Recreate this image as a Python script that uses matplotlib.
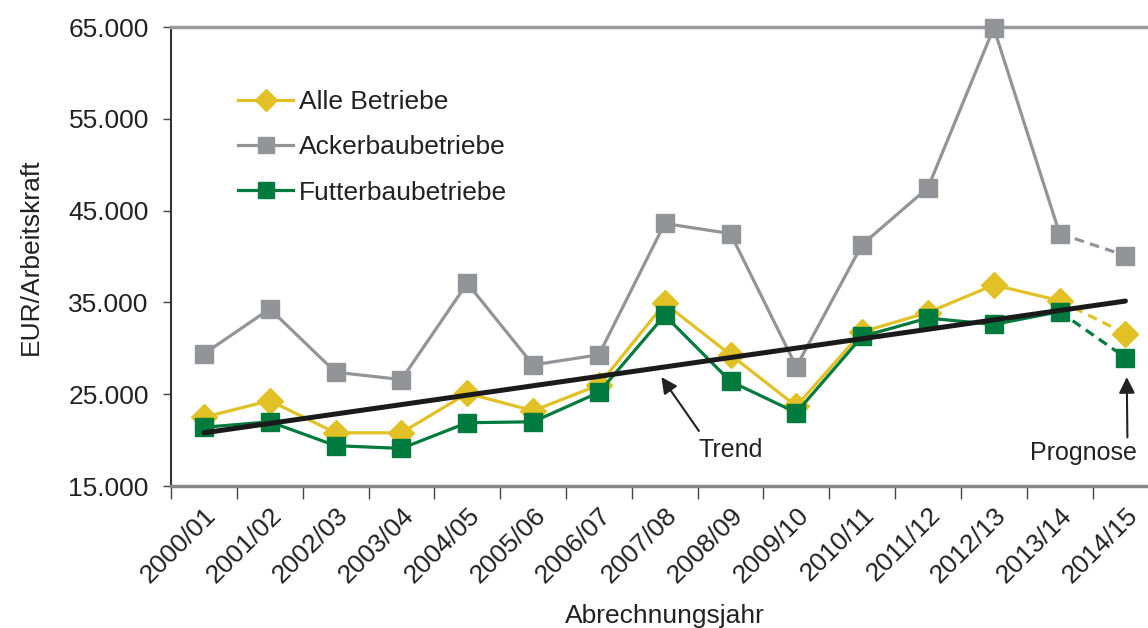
import matplotlib
matplotlib.use("Agg")
import matplotlib.pyplot as plt
from matplotlib.ticker import FuncFormatter, FixedLocator
import numpy as np

plt.rcParams['font.family'] = ['Liberation Sans', 'DejaVu Sans']

jahre = ["2000/01", "2001/02", "2002/03", "2003/04", "2004/05", "2005/06",
         "2006/07", "2007/08", "2008/09", "2009/10", "2010/11", "2011/12",
         "2012/13", "2013/14", "2014/15"]
alle = [22500, 24300, 20800, 20800, 25100, 23200, 26000, 34900, 29300,
        23700, 31800, 33900, 36900, 35200, 31600]
acker = [29400, 34300, 27400, 26600, 37100, 28200, 29300, 43600, 42500,
         28000, 41300, 47500, 64900, 42500, 40100]
futter = [21400, 22000, 19400, 19100, 21900, 22000, 25200, 33600, 26400,
          23000, 31300, 33300, 32600, 34000, 29000]
trend_start, trend_end = 20800, 35150

c_alle = "#E1C125"
c_acker = "#939498"
c_futter = "#007A3D"
c_text = "#222222"

fig = plt.figure(figsize=(11.48, 6.28), dpi=100)
ax = fig.add_axes([0.149, 0.226, 0.86, 0.731])

x = np.arange(len(jahre))
n = len(jahre) - 1  # letzter Wert = Prognose -> gestrichelt
serien = [(alle, c_alle, "D", "Alle Betriebe"),
          (acker, c_acker, "s", "Ackerbaubetriebe"),
          (futter, c_futter, "s", "Futterbaubetriebe")]
for werte, col, mk, name in serien:
    ax.plot(x[:n], werte[:n], color=col, lw=2.3, marker=mk, ms=13,
            mec=col, label=name, clip_on=False, zorder=3)
    ax.plot(x[n - 1:], werte[n - 1:], color=col, lw=2.3, ls=(0, (3, 2)),
            zorder=2, clip_on=False)
    ax.plot(x[n:], werte[n:], color=col, lw=0, marker=mk, ms=13, mec=col,
            zorder=3, clip_on=False)

ax.plot([x[0], x[-1]], [trend_start, trend_end], color="#1a1a1a", lw=3.6,
        solid_capstyle="round", zorder=4)

pfeil = dict(arrowstyle="-|>", color=c_text, lw=1.5, mutation_scale=24,
             shrinkA=0, shrinkB=0)
ax.annotate("", xy=(6.95, 26870), xytext=(7.52, 21000), arrowprops=pfeil)
ax.text(8.0, 18900, "Trend", ha="center", va="center", fontsize=18,
        color=c_text, fontfamily=["Liberation Sans Narrow", "Liberation Sans"])
ax.annotate("", xy=(14.02, 26870), xytext=(14.03, 20300), arrowprops=pfeil,
            annotation_clip=False)
ax.text(13.36, 18600, "Prognose", ha="center", va="center", fontsize=18,
        color=c_text, fontfamily=["Liberation Sans Narrow", "Liberation Sans"])

ax.set_xlim(-0.5, len(jahre) - 0.5)
ax.set_ylim(15000, 65000)
ax.set_yticks(np.arange(15000, 65001, 10000))
ax.yaxis.set_major_formatter(FuncFormatter(lambda v, p: f"{int(v):,}".replace(",", ".")))
ax.xaxis.set_major_locator(FixedLocator(np.arange(-0.5, len(jahre), 1)))
ax.xaxis.set_minor_locator(FixedLocator(x))
ax.set_xticklabels([])
ax.set_xticklabels(jahre, minor=True, rotation=45, ha="right",
                   rotation_mode="anchor")
ax.tick_params(axis="x", which="major", length=9, width=1, color="#444444",
               direction="out")
ax.tick_params(axis="x", which="minor", length=0, pad=12, labelsize=19,
               labelcolor=c_text)
ax.tick_params(axis="y", length=6, width=1, color="#444444", labelsize=19,
               labelcolor=c_text, pad=10)

ax.spines["right"].set_visible(False)
ax.spines["left"].set_color("#333333")
ax.spines["left"].set_linewidth(1.5)
ax.spines["top"].set_color("#9a9a9a")
ax.spines["top"].set_linewidth(2.5)
ax.spines["bottom"].set_color("#888888")
ax.spines["bottom"].set_linewidth(2.5)

ax.set_ylabel("EUR/Arbeitskraft", fontsize=19, color=c_text, labelpad=18)
ax.set_xlabel("Abrechnungsjahr", fontsize=19, color=c_text, labelpad=12)

ax.legend(loc="upper left", bbox_to_anchor=(0.057, 0.885), frameon=False,
          fontsize=19, handlelength=2.1, handletextpad=0.2, labelspacing=0.8,
          borderaxespad=0, labelcolor=c_text, markerscale=0.85)

fig.savefig("out.png", dpi=100)
